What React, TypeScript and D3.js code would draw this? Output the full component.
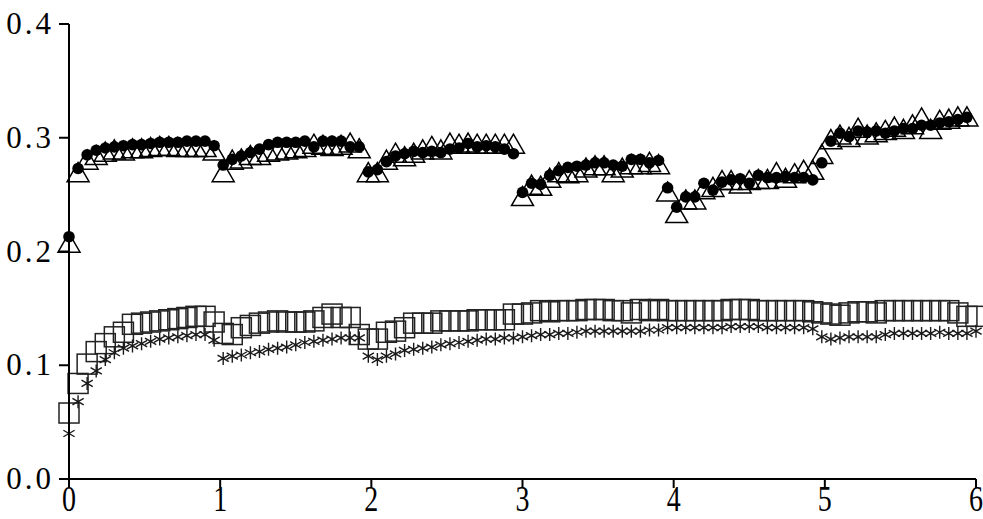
import React from "react";
import * as d3 from "d3";

const xTicks = [0, 1, 2, 3, 4, 5, 6];
const yTicks = [0.0, 0.1, 0.2, 0.3, 0.4];

const xs = [
  0.0, 0.06, 0.12, 0.18, 0.24, 0.3, 0.36, 0.42, 0.48, 0.54, 0.6, 0.66, 0.72, 0.78, 0.84, 0.9, 0.96,
  1.02, 1.08, 1.14, 1.2, 1.26, 1.32, 1.38, 1.44, 1.5, 1.56, 1.62, 1.68, 1.74, 1.8, 1.86, 1.92, 1.98,
  2.04, 2.1, 2.16, 2.22, 2.28, 2.34, 2.4, 2.46, 2.52, 2.58, 2.64, 2.7, 2.76, 2.82, 2.88, 2.94, 3.0,
  3.06, 3.12, 3.18, 3.24, 3.3, 3.36, 3.42, 3.48, 3.54, 3.6, 3.66, 3.72, 3.78, 3.84, 3.9, 3.96,
  4.02, 4.08, 4.14, 4.2, 4.26, 4.32, 4.38, 4.44, 4.5, 4.56, 4.62, 4.68, 4.74, 4.8, 4.86, 4.92, 4.98,
  5.04, 5.1, 5.16, 5.22, 5.28, 5.34, 5.4, 5.46, 5.52, 5.58, 5.64, 5.7, 5.76, 5.82, 5.88, 5.94, 6.0,
];

// filled circles
const circleVals = [
  0.213, 0.273, 0.285, 0.289, 0.291, 0.292, 0.293, 0.294, 0.294, 0.295, 0.296, 0.296, 0.296, 0.297, 0.297, 0.297, 0.293,
  0.276, 0.281, 0.284, 0.287, 0.29, 0.294, 0.296, 0.296, 0.296, 0.297, 0.292, 0.297, 0.297, 0.297, 0.292, 0.292,
  0.27, 0.272, 0.279, 0.284, 0.286, 0.288, 0.287, 0.288, 0.287, 0.29, 0.291, 0.295, 0.292, 0.293, 0.292, 0.29, 0.286,
  0.252, 0.26, 0.259, 0.267, 0.271, 0.274, 0.275, 0.276, 0.278, 0.278, 0.276, 0.275, 0.281, 0.281, 0.278, 0.28,
  0.256, 0.239, 0.248, 0.248, 0.26, 0.254, 0.261, 0.263, 0.264, 0.26, 0.267, 0.265, 0.265, 0.266, 0.265, 0.265, 0.263,
  0.278, 0.297, 0.304, 0.301, 0.306, 0.305, 0.306, 0.304, 0.306, 0.308, 0.308, 0.311, 0.311, 0.313, 0.314, 0.316, 0.318,
];

// open triangles
const triangleVals = [
  0.205, 0.267, 0.278, 0.282, 0.285, 0.287, 0.286, 0.288, 0.288, 0.289, 0.29, 0.29, 0.289, 0.289, 0.289, 0.289, 0.286,
  0.267, 0.278, 0.279, 0.282, 0.282, 0.285, 0.286, 0.287, 0.288, 0.289, 0.292, 0.291, 0.29, 0.291, 0.293, 0.288,
  0.267, 0.267, 0.278, 0.284, 0.281, 0.284, 0.287, 0.29, 0.287, 0.293, 0.292, 0.293, 0.292, 0.292, 0.292, 0.292, 0.292,
  0.246, 0.256, 0.255, 0.262, 0.267, 0.266, 0.267, 0.271, 0.273, 0.273, 0.267, 0.271, 0.274, 0.274, 0.276, 0.274,
  0.25, 0.231, 0.243, 0.243, 0.252, 0.254, 0.26, 0.26, 0.257, 0.26, 0.261, 0.261, 0.267, 0.262, 0.266, 0.269, 0.269,
  0.283, 0.296, 0.3, 0.298, 0.306, 0.3, 0.302, 0.304, 0.307, 0.305, 0.309, 0.315, 0.305, 0.313, 0.314, 0.316, 0.316,
];

// open squares
const squareVals = [
  0.058, 0.084, 0.101, 0.112, 0.119, 0.125, 0.129, 0.136, 0.137, 0.138, 0.139, 0.14, 0.141, 0.142, 0.143, 0.143, 0.138,
  0.128, 0.127, 0.133, 0.135, 0.137, 0.138, 0.139, 0.138, 0.138, 0.138, 0.139, 0.142, 0.145, 0.142, 0.142, 0.127,
  0.123, 0.123, 0.129, 0.13, 0.133, 0.137, 0.137, 0.137, 0.139, 0.139, 0.139, 0.139, 0.14, 0.14, 0.14, 0.14, 0.145,
  0.145, 0.146, 0.148, 0.147, 0.148, 0.148, 0.148, 0.149, 0.149, 0.149, 0.148, 0.148, 0.146, 0.149, 0.148, 0.149,
  0.148, 0.148, 0.148, 0.148, 0.148, 0.148, 0.148, 0.149, 0.149, 0.149, 0.148, 0.148, 0.148, 0.148, 0.148, 0.148, 0.147,
  0.146, 0.145, 0.144, 0.146, 0.147, 0.147, 0.146, 0.148, 0.148, 0.148, 0.148, 0.148, 0.148, 0.148, 0.148, 0.146, 0.143,
  0.143,
];

// asterisks
const asteriskVals = [
  0.04, 0.068, 0.084, 0.095, 0.105, 0.111, 0.115, 0.117, 0.119, 0.121, 0.123, 0.124, 0.125, 0.126, 0.127, 0.127, 0.122,
  0.106, 0.108, 0.109, 0.111, 0.112, 0.114, 0.115, 0.116, 0.118, 0.12, 0.121, 0.122, 0.123, 0.124, 0.124, 0.124,
  0.108, 0.105, 0.108, 0.11, 0.113, 0.114, 0.115, 0.116, 0.118, 0.119, 0.12, 0.121, 0.122, 0.123, 0.123, 0.124, 0.124,
  0.125, 0.126, 0.127, 0.127, 0.128, 0.128, 0.129, 0.13, 0.13, 0.13, 0.13, 0.13, 0.13, 0.13, 0.131, 0.131,
  0.133, 0.133, 0.133, 0.133, 0.133, 0.133, 0.133, 0.134, 0.134, 0.134, 0.134, 0.133, 0.133, 0.133, 0.133, 0.133, 0.132,
  0.125, 0.123, 0.124, 0.125, 0.125, 0.125, 0.125, 0.127, 0.128, 0.128, 0.128, 0.128, 0.128, 0.129, 0.128, 0.128, 0.128,
  0.13,
];

const W = 983;
const H = 519;
const FONT = "'Liberation Serif', 'DejaVu Serif', serif";

export default function App() {
  const x = d3.scaleLinear().domain([0, 6]).range([69, 976]);
  const y = d3.scaleLinear().domain([0, 0.4]).range([479, 24]);
  const fmt = d3.format(".1f");

  const triSide = 22;
  const triH = (triSide * Math.sqrt(3)) / 2;
  const triPath = `M0,${-(2 * triH) / 3}L${triSide / 2},${triH / 3}L${-triSide / 2},${triH / 3}Z`;
  const sq = 20;
  const ar = 6.5;
  const c30 = Math.cos(Math.PI / 6) * ar;
  const s30 = Math.sin(Math.PI / 6) * ar;
  const astPath = `M0,${-ar}L0,${ar}M${-c30},${-s30}L${c30},${s30}M${-c30},${s30}L${c30},${-s30}`;

  return (
    <svg
      width={W}
      height={H}
      style={{ position: "absolute", left: 0, top: 0, background: "#fff" }}
    >
      <rect x={0} y={0} width={W} height={H} fill="#fff" />
      {/* squares */}
      <g fill="none" stroke="#222" strokeWidth={1.5}>
        {squareVals.map((v, i) => (
          <rect key={i} x={x(xs[i]) - sq / 2} y={y(v) - sq / 2} width={sq} height={sq} />
        ))}
      </g>
      {/* asterisks */}
      <g fill="none" stroke="#1a1a1a" strokeWidth={1.4}>
        {asteriskVals.map((v, i) => (
          <path key={i} d={astPath} transform={`translate(${x(xs[i])},${y(v)})`} />
        ))}
      </g>
      {/* triangles */}
      <g fill="none" stroke="#000" strokeWidth={1.5}>
        {triangleVals.map((v, i) => (
          <path key={i} d={triPath} transform={`translate(${x(xs[i])},${y(v)})`} />
        ))}
      </g>
      {/* circles */}
      <g fill="#000">
        {circleVals.map((v, i) => (
          <circle key={i} cx={x(xs[i])} cy={y(v)} r={5.8} />
        ))}
      </g>
      {/* axes */}
      <g stroke="#000" strokeWidth={2} fill="none">
        <line x1={x(0)} x2={x(0)} y1={y(0.4)} y2={y(0)} />
        <line x1={x(0)} x2={x(6)} y1={y(0)} y2={y(0)} />
        {yTicks.map((t) => (
          <line key={"yt" + t} x1={x(0) - 10} x2={x(0)} y1={y(t)} y2={y(t)} />
        ))}
        {xTicks.map((t) => (
          <line key={"xt" + t} x1={x(t)} x2={x(t)} y1={y(0)} y2={y(0) + 9} />
        ))}
      </g>
      <g fontFamily={FONT} fill="#000">
        {yTicks.map((t) => (
          <text
            key={"yl" + t}
            x={54}
            y={y(t) + 10}
            textAnchor="end"
            fontSize={31}
            letterSpacing={3}
          >
            {fmt(t)}
          </text>
        ))}
        {xTicks.map((t) => (
          <text
            key={"xl" + t}
            textAnchor="middle"
            fontSize={28}
            transform={`translate(${x(t)},511) scale(1,1.3)`}
          >
            {String(t)}
          </text>
        ))}
      </g>
    </svg>
  );
}
